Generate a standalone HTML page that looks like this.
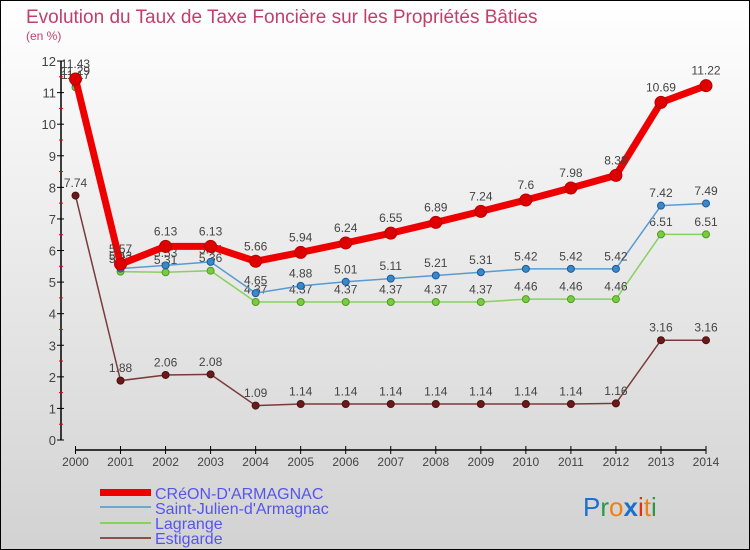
<!DOCTYPE html>
<html><head><meta charset="utf-8"><style>
html,body{margin:0;padding:0}
body{width:750px;height:550px;overflow:hidden}
svg{display:block}
text{font-family:"Liberation Sans",sans-serif}
</style></head><body>
<svg id="chart" width="750" height="550">
<defs><linearGradient id="bg" x1="0" y1="0" x2="0" y2="1"><stop offset="0" stop-color="#ffffff"/><stop offset="1" stop-color="#d2d2d2"/></linearGradient></defs>
<rect x="0.5" y="0.5" width="749" height="549" fill="url(#bg)" stroke="#000"/>
<text x="26" y="23" font-size="19" fill="#c0406a">Evolution du Taux de Taxe Foncière sur les Propriétés Bâties</text>
<text x="26" y="40" font-size="12" fill="#c0406a">(en %)</text>
<g id="axes"></g>
<g id="series"></g>
<g id="legend" font-size="16" fill="#5555ee">
<rect x="100" y="489" width="51" height="7" fill="#ee0000"/>
<text x="155" y="499">CRéON-D'ARMAGNAC</text>
<rect x="100" y="506" width="51" height="2" fill="#6ea8d0"/>
<text x="155" y="514">Saint-Julien-d'Armagnac</text>
<rect x="100" y="522" width="51" height="2" fill="#88d060"/>
<text x="155" y="529">Lagrange</text>
<rect x="100" y="537" width="51" height="2" fill="#8a5050"/>
<text x="155" y="544">Estigarde</text>
</g>
<text x="583" y="516" font-size="26"><tspan fill="#1a6fd0">P</tspan><tspan fill="#2a9a40">r</tspan><tspan fill="#f08010">o</tspan><tspan fill="#1a6fd0" font-weight="bold">x</tspan><tspan fill="#e03010">i</tspan><tspan fill="#f08010">t</tspan><tspan fill="#2a9a40">i</tspan></text>
</svg>
<script>
const years=["2000","2001","2002","2003","2004","2005","2006","2007","2008","2009","2010","2011","2012","2013","2014"];
const creon=[11.43,5.57,6.13,6.13,5.66,5.94,6.24,6.55,6.89,7.24,7.6,7.98,8.38,10.69,11.22];
const stJulien=[11.29,5.43,5.53,5.64,4.65,4.88,5.01,5.11,5.21,5.31,5.42,5.42,5.42,7.42,7.49];
const lagrange=[11.17,5.33,5.31,5.36,4.37,4.37,4.37,4.37,4.37,4.37,4.46,4.46,4.46,6.51,6.51];
const estigarde=[7.74,1.88,2.06,2.08,1.09,1.14,1.14,1.14,1.14,1.14,1.14,1.14,1.16,3.16,3.16];
const yTicks=[0,1,2,3,4,5,6,7,8,9,10,11,12];
const NS="http://www.w3.org/2000/svg";
function X(i){return 75.5+i*(630.5/(years.length-1));}
function Y(v){return 440-v*31.58;}
function mk(tag,attrs,parent){const e=document.createElementNS(NS,tag);for(const k in attrs)e.setAttribute(k,attrs[k]);parent.appendChild(e);return e;}
const ax=document.getElementById('axes');
let yl=mk('line',{x1:61,y1:Y(0),x2:61,y2:Y(12),stroke:'#000','stroke-width':1.5},ax);


yTicks.forEach(t=>{
 mk('line',{x1:57,y1:Y(t),x2:64,y2:Y(t),stroke:'#000'},ax);
 if(t<12)mk('line',{x1:59,y1:Y(t+0.5),x2:63,y2:Y(t+0.5),stroke:'#e00'},ax);
 const tx=mk('text',{x:56,y:Y(t)+5,'font-size':13,fill:'#444','text-anchor':'end'},ax);tx.textContent=t;
 
 
});
let xl=mk('line',{x1:75.5,y1:450,x2:706,y2:450,stroke:'#000','stroke-width':1.5},ax);


years.forEach((y,i)=>{
 mk('line',{x1:X(i),y1:446,x2:X(i),y2:454,stroke:'#000'},ax);
 const tx=mk('text',{x:X(i),y:466,'font-size':12,fill:'#444','text-anchor':'middle'},ax);tx.textContent=y;
 
 
});
const sg=document.getElementById('series');
function draw(vals,name,color,w,r,dot,dotStroke){
 const g=mk('g',{},sg);
 
 
 const pl=mk('polyline',{points:vals.map((v,i)=>X(i)+','+Y(v)).join(' '),fill:'none',stroke:color,'stroke-width':w,'stroke-linejoin':'round'},g);
 
 
 vals.forEach((v,i)=>{
  const c=mk('circle',{cx:X(i),cy:Y(v),r:r,fill:dot,stroke:dotStroke,'stroke-width':1},g);
  
  
  const t=mk('text',{x:X(i),y:Y(v)-r-5,'font-size':12,fill:'#444','text-anchor':'middle'},g);t.textContent=String(v);
  
  
 });
}
draw(estigarde,'estigarde','#7a3a3a',1.5,3.5,'#6a1a1a','#4a1010');
draw(lagrange,'lagrange','#88d060',1.5,3.5,'#77cc44','#559922');
draw(stJulien,'saint-julien','#5a9ad0',1.5,3.5,'#3a88cc','#1a5a99');
draw(creon,'creon','#ee0000',7,6,'#dd0000','#bb0000');
</script>
</body></html>
